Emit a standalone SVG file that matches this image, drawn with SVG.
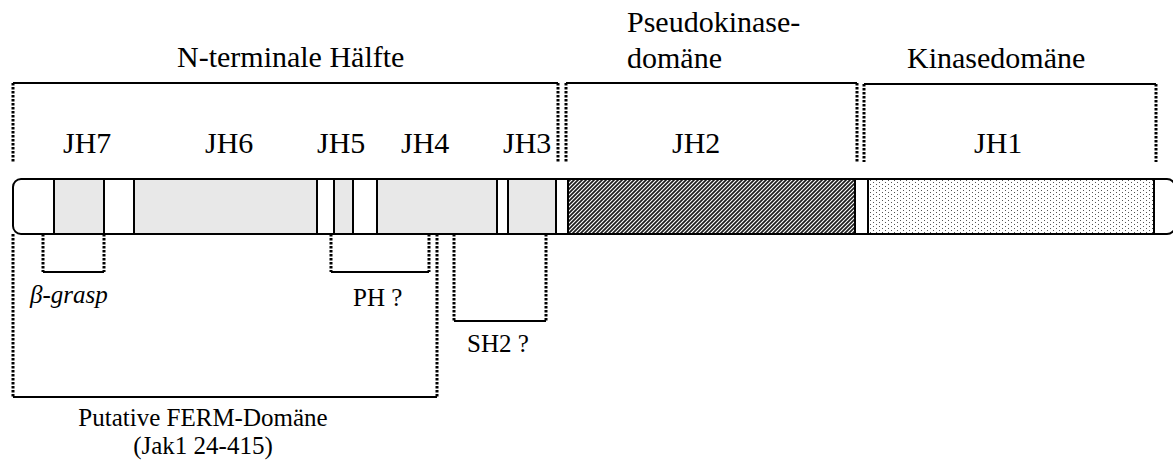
<svg xmlns="http://www.w3.org/2000/svg" width="1173" height="462" viewBox="0 0 1173 462">
  <style>
    text { font-family: "Liberation Serif", "DejaVu Serif", "Times New Roman", serif; fill: #000; }
    .big { font-size: 30px; }
    .small { font-size: 25px; }
    .solid { stroke: #000; stroke-width: 2; fill: none; }
    .dot { stroke: #000; stroke-width: 3; stroke-dasharray: 2.5 1.5; fill: none; }
    .seg { stroke: #000; stroke-width: 2; }
  </style>
  <defs>
    <!-- dense diagonal hatching for the pseudokinase domain -->
    <pattern id="hatch" width="4" height="4" patternUnits="userSpaceOnUse">
      <rect width="4" height="4" fill="#1e1e1e"/>
      <path d="M-1,1 L1,-1 M0,4 L4,0 M3,5 L5,3" stroke="#fff" stroke-width="1.1"/>
    </pattern>
    <!-- sparse dot screen for the kinase domain -->
    <pattern id="dots" width="6" height="4" patternUnits="userSpaceOnUse">
      <rect width="6" height="4" fill="#fff"/>
      <rect x="0" y="0" width="1" height="1" fill="#555"/>
      <rect x="3" y="2" width="1" height="1" fill="#555"/>
    </pattern>
  </defs>

  <!-- section titles -->
  <g id="titles">
    <text class="big" x="177" y="67">N-terminale Hälfte</text>
    <text class="big" x="627" y="32">Pseudokinase-</text>
    <text class="big" x="627" y="68">domäne</text>
    <text class="big" x="907" y="68">Kinasedomäne</text>
  </g>

  <!-- brackets above the bar -->
  <g id="top-brackets">
    <line class="solid" x1="13" y1="83" x2="558" y2="83"/>
    <line class="dot" x1="13" y1="83" x2="13" y2="162"/>
    <line class="dot" x1="558" y1="83" x2="558" y2="162"/>
    <line class="solid" x1="566" y1="83" x2="857" y2="83"/>
    <line class="dot" x1="566" y1="83" x2="566" y2="162"/>
    <line class="dot" x1="857" y1="83" x2="857" y2="162"/>
    <line class="solid" x1="864" y1="84" x2="1156" y2="84"/>
    <line class="dot" x1="864" y1="84" x2="864" y2="162"/>
    <line class="dot" x1="1156" y1="84" x2="1156" y2="162"/>
  </g>

  <!-- JH region labels -->
  <g id="jh-labels">
    <text class="big" x="63" y="153">JH7</text>
    <text class="big" x="205" y="153">JH6</text>
    <text class="big" x="317" y="153">JH5</text>
    <text class="big" x="401" y="153">JH4</text>
    <text class="big" x="503" y="153">JH3</text>
    <text class="big" x="672" y="153">JH2</text>
    <text class="big" x="974" y="153">JH1</text>
  </g>

  <!-- protein bar -->
  <g id="bar">
    <rect x="13" y="179" width="1162" height="55" rx="8" ry="8" fill="#fff" stroke="#000" stroke-width="2"/>
    <rect x="54" y="180" width="50" height="53" fill="#e8e8e8"/>
    <rect x="134" y="180" width="183" height="53" fill="#e8e8e8"/>
    <rect x="334" y="180" width="19" height="53" fill="#e8e8e8"/>
    <rect x="377" y="180" width="120" height="53" fill="#e8e8e8"/>
    <rect x="508" y="180" width="48" height="53" fill="#e8e8e8"/>
    <rect x="568" y="180" width="287" height="53" fill="url(#hatch)"/>
    <rect x="868" y="180" width="286" height="53" fill="url(#dots)"/>
    <g class="seg">
      <line x1="54" y1="179" x2="54" y2="234"/>
      <line x1="104" y1="179" x2="104" y2="234"/>
      <line x1="134" y1="179" x2="134" y2="234"/>
      <line x1="317" y1="179" x2="317" y2="234"/>
      <line x1="334" y1="179" x2="334" y2="234"/>
      <line x1="353" y1="179" x2="353" y2="234"/>
      <line x1="377" y1="179" x2="377" y2="234"/>
      <line x1="497" y1="179" x2="497" y2="234"/>
      <line x1="508" y1="179" x2="508" y2="234"/>
      <line x1="556" y1="179" x2="556" y2="234"/>
      <line x1="568" y1="179" x2="568" y2="234"/>
      <line x1="855" y1="179" x2="855" y2="234"/>
      <line x1="868" y1="179" x2="868" y2="234"/>
      <line x1="1154" y1="179" x2="1154" y2="234"/>
    </g>
  </g>

  <!-- sub-domain brackets below the bar -->
  <g id="bottom-brackets">
    <line class="dot" x1="43" y1="234" x2="43" y2="272"/>
    <line class="dot" x1="104" y1="234" x2="104" y2="272"/>
    <line class="solid" x1="43" y1="272" x2="104" y2="272"/>
    <line class="dot" x1="331" y1="234" x2="331" y2="272"/>
    <line class="dot" x1="429" y1="234" x2="429" y2="272"/>
    <line class="solid" x1="331" y1="272" x2="429" y2="272"/>
    <line class="dot" x1="13" y1="234" x2="13" y2="397"/>
    <line class="dot" x1="437" y1="234" x2="437" y2="397"/>
    <line class="solid" x1="13" y1="397" x2="437" y2="397"/>
    <line class="dot" x1="454" y1="234" x2="454" y2="321"/>
    <line class="dot" x1="546" y1="234" x2="546" y2="321"/>
    <line class="solid" x1="454" y1="321" x2="546" y2="321"/>
  </g>

  <g id="sub-labels">
    <text class="small" x="30" y="303" font-style="italic">β-grasp</text>
    <text class="small" x="353" y="306">PH ?</text>
    <text class="small" x="467" y="352">SH2 ?</text>
    <text class="small" x="203" y="426" text-anchor="middle">Putative FERM-Domäne</text>
    <text class="small" x="203" y="454" text-anchor="middle">(Jak1 24-415)</text>
  </g>
</svg>
